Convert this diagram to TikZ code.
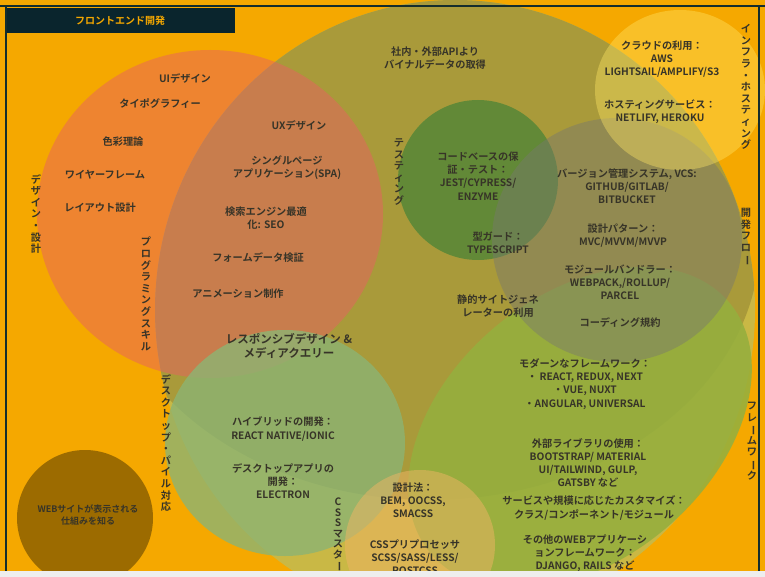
\documentclass[tikz,border=0pt]{standalone}
\usepackage{fontspec}
\setmainfont{Noto Sans CJK JP}[BoldFont={* Bold}]
\begin{document}
\begin{tikzpicture}[x=1pt,y=-1pt,
  lbl/.style={font=\bfseries\fontsize{10.2}{13.2}\selectfont,text=txt,align=center,inner sep=0pt},
  vlbl/.style={font=\bfseries\fontsize{10.2}{11.6}\selectfont,text=txt,align=center,inner sep=0pt,text width=11pt}]
\definecolor{bg}{RGB}{245,168,0}
\definecolor{txt}{RGB}{55,52,40}
\definecolor{frame}{RGB}{20,45,45}
\newcommand{\vbar}{\rotatebox[origin=c]{-90}{ー}}
\useasboundingbox (0,0) rectangle (765,577);
\fill[bg] (0,0) rectangle (765,577);
% big yellow programming shape
\begin{scope}
\fill[fill={rgb,255:red,201;green,184;blue,69}] (455,310) ellipse [x radius=300pt,y radius=310pt];
\clip (455,310) ellipse [x radius=300pt,y radius=310pt];
\fill[fill={rgb,255:red,169;green,154;blue,58}] (430,240) ellipse [x radius=330pt,y radius=260pt];
\end{scope}
% design circle
\fill[fill={rgb,255:red,232;green,98;blue,96},fill opacity=0.5] (210,214) ellipse [x radius=173pt,y radius=164pt];
% testing circle
\fill[fill={rgb,255:red,86;green,135;blue,55},fill opacity=0.85] (478,180) circle [radius=80pt];
% framework circle
\fill[fill={rgb,255:red,150;green,175;blue,62},fill opacity=0.9,rotate around={40:(580,428)}] (580,428) ellipse [x radius=195pt,y radius=132pt];
% dev flow circle
\fill[fill={rgb,255:red,120;green,120;blue,110},fill opacity=0.45] (617,240) ellipse [x radius=125pt,y radius=122pt];
% responsive circle
\fill[fill={rgb,255:red,140;green,180;blue,115},fill opacity=0.8] (285,443) ellipse [x radius=120pt,y radius=113pt];
% css circle
\fill[fill={rgb,255:red,240;green,180;blue,100},fill opacity=0.5] (420,545) circle [radius=75pt];
% infra circle
\fill[fill={rgb,255:red,255;green,230;blue,100},fill opacity=0.4] (680,90) ellipse [x radius=85pt,y radius=80pt];
% web circle
\fill[fill={rgb,255:red,156;green,107;blue,0}] (85,518) circle [radius=68pt];

% header
\fill[fill={rgb,255:red,10;green,37;blue,45}] (6,8) rectangle (235,33);
\node[font=\bfseries\fontsize{10}{12}\selectfont,text=bg] (hdr) at (120,20.5) {フロントエンド開発};

\node[lbl] (ui) at (185,78) {UIデザイン};
\node[lbl] (typo) at (160,104) {タイポグラフィー};
\node[lbl] (color) at (123,142) {色彩理論};
\node[lbl] (wire) at (105,175) {ワイヤーフレーム};
\node[lbl] (layout) at (100,208) {レイアウト設計};
\node[vlbl] (vdesign) at (36,214) {デ\\ザ\\イ\\ン\\・\\設\\計};
\node[lbl] (ux) at (299,125) {UXデザイン};
\node[lbl] (spa) at (287,168) {シングルページ\\アプリケーション(SPA)};
\node[lbl] (seo) at (266,218) {検索エンジン最適\\化: SEO};
\node[lbl] (form) at (258,258) {フォームデータ検証};
\node[lbl] (anim) at (238,294) {アニメーション制作};
\node[vlbl] (vprog) at (146,294) {プ\\ロ\\グ\\ラ\\ミ\\ン\\グ\\ス\\キ\\ル};
\node[lbl] (api) at (435,58) {社内・外部APIより\\バイナルデータの取得};
\node[vlbl] (vtest) at (399,172) {テ\\ス\\テ\\ィ\\ン\\グ};
\node[lbl] (code) at (478,176) {コードベースの保\\証・テスト：\\JEST/CYPRESS/\\ENZYME};
\node[lbl] (type) at (498,243) {型ガード：\\TYPESCRIPT};
\node[lbl] (cloud) at (662,59) {クラウドの利用：\\AWS\\LIGHTSAIL/AMPLIFY/S3};
\node[lbl] (host) at (660,112) {ホスティングサービス：\\NETLIFY, HEROKU};
\node[vlbl] (vinfra) at (746,87) {イ\\ン\\フ\\ラ\\・\\ホ\\ス\\テ\\ィ\\ン\\グ};
\node[lbl] (vcs) at (627,186) {バージョン管理システム, VCS:\\GITHUB/GITLAB/\\BITBUCKET};
\node[lbl] (pat) at (623,236) {設計パターン：\\MVC/MVVM/MVVP};
\node[lbl] (bundle) at (620,282) {モジュールバンドラー：\\WEBPACK,/ROLLUP/\\PARCEL};
\node[lbl] (rule) at (620,323) {コーディング規約};
\node[vlbl] (vflow) at (746,237) {開\\発\\フ\\ロ\\\vbar};
\node[lbl] (ssg) at (498,306) {静的サイトジェネ\\レーターの利用};
\node[lbl,font=\bfseries\fontsize{11.5}{14}\selectfont] (resp) at (289,346) {レスポンシブデザイン \&\\メディアクエリー};
\node[vlbl] (vmob) at (166,443) {デ\\ス\\ク\\ト\\ッ\\プ\\・\\パ\\イ\\ル\\対\\応};
\node[lbl] (hyb) at (283,429) {ハイブリッドの開発：\\REACT NATIVE/IONIC};
\node[lbl] (desk) at (283,481) {デスクトップアプリの\\開発：\\ELECTRON};
\node[vlbl,font=\bfseries\fontsize{10.2}{10.5}\selectfont] (vcss) at (338,535) {C\\S\\S\\マ\\ス\\タ\\\vbar};
\node[lbl] (bem) at (413,500) {設計法：\\BEM, OOCSS,\\SMACSS};
\node[lbl] (pre) at (415,557) {CSSプリプロセッサ\\SCSS/SASS/LESS/\\POSTCSS};
\node[lbl] (mod) at (585,384) {モダーンなフレームワーク：\\・ REACT, REDUX, NEXT\\・VUE, NUXT\\・ANGULAR, UNIVERSAL};
\node[lbl] (lib) at (588,463) {外部ライブラリの使用：\\BOOTSTRAP/ MATERIAL\\UI/TAILWIND, GULP,\\GATSBY など};
\node[lbl] (svc) at (594,508) {サービスや規模に応じたカスタマイズ：\\クラス/コンポーネント/モジュール};
\node[lbl] (other) at (585,553) {その他のWEBアプリケーシ\\ョンフレームワーク：\\DJANGO, RAILS など};
\node[vlbl] (vfw) at (752,441) {フ\\レ\\\vbar\\ム\\ワ\\\vbar\\ク};
\node[lbl,font=\bfseries\fontsize{9}{11.5}\selectfont] (web) at (88,515) {WEBサイトが表示される\\仕組みを知る};

% frame
\draw[frame,line width=1.5pt] (0,6) -- (765,6);
\draw[frame,line width=1.5pt] (6,6) -- (6,572);
\draw[frame,line width=1.5pt] (759,6) -- (759,572);
\fill[fill={rgb,255:red,238;green,238;blue,238}] (0,571) rectangle (765,577);
\end{tikzpicture}
\end{document}
